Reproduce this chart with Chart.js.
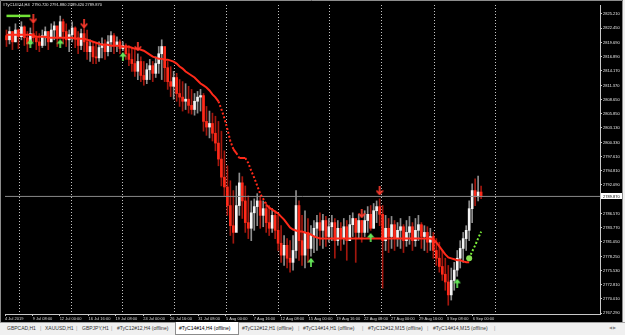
<!DOCTYPE html>
<html>
<head>
<meta charset="utf-8">
<script src="https://cdn.jsdelivr.net/npm/chart.js@4.4.1/dist/chart.umd.min.js"></script>
<style>
  html, body { margin: 0; padding: 0; background: #f0f0f0; }
  #wrap { position: relative; width: 625px; height: 335px; overflow: hidden; }
  #c { position: absolute; left: 0; top: 0; background: #000; }
  #tabs { position: absolute; left: 0; top: 322px; width: 625px; height: 13px; background: #f0f0f0;
          border-top: 1px solid #a0a0a0; box-sizing: border-box;
          font: 5px "Liberation Sans", Arial, sans-serif; color: #333; }
  #tabs span { position: absolute; top: -1px; line-height: 12px; white-space: nowrap; }
  #tabs .sep { color: #999; }
  #tabs .on { top: -1px; height: 12px; width: 59px; padding-left: 3px; background: #fff;
              border: 1px solid #8c8c8c; border-top: none; color: #000; }
  #tabs .nav { color: #888; font-size: 4px; }
</style>
</head>
<body>
<div id="wrap">
  <canvas id="c" width="625" height="322"></canvas>
  <div id="tabs">
    <span style="left:7px">GBPCAD,H1</span>
    <span class="sep" style="left:40px">|</span>
    <span style="left:45px">XAUUSD,H1</span>
    <span class="sep" style="left:76px">|</span>
    <span style="left:82px">GBPJPY,H1</span>
    <span class="sep" style="left:111px">|</span>
    <span style="left:117px">#TyC12#12,H4 (offline)</span>
    <span class="on" style="left:175px">#TyC14#14,H4 (offline)</span>
    <span style="left:242px">#TyC12#12,H1 (offline)</span>
    <span class="sep" style="left:298px">|</span>
    <span style="left:303px">#TyC14#14,H1 (offline)</span>
    <span class="sep" style="left:362px">|</span>
    <span style="left:368px">#TyC12#12,M15 (offline)</span>
    <span class="sep" style="left:427px">|</span>
    <span style="left:433px">#TyC14#14,M15 (offline)</span>
    <span class="sep" style="left:494px">|</span>
    <span class="nav" style="left:609px">&#9664; &#9654;</span>
  </div>
</div>
<script>
var symbol = "#TyC14#14,H4";
var firstOpen = 2821.0;

// H4 bars
var highs = [
  2822.1, 2822.7, 2821.8, 2823.3, 2822.3, 2823.7, 2822.9, 2821.8, 2822.5, 2824.1,
  2821.8, 2821.4, 2822.1, 2822.7, 2821.8, 2823.3, 2823.7, 2822.5, 2824.8, 2824.2,
  2823.3, 2822.1, 2823.7, 2822.7, 2821.8, 2822.3, 2822.9, 2822.1, 2820.2, 2819.8,
  2819.4, 2819.8, 2820.6, 2820.2, 2821.0, 2821.8, 2821.4, 2820.8, 2820.2, 2819.8,
  2819.4, 2819.1, 2818.7, 2818.3, 2817.5, 2816.9, 2816.0, 2815.6, 2816.4, 2816.0,
  2816.9, 2818.9, 2820.2, 2817.9, 2816.0, 2815.0, 2814.1, 2813.7, 2812.5, 2812.1,
  2811.7, 2811.2, 2810.6, 2809.8, 2810.2, 2810.6, 2809.8, 2807.3, 2806.4, 2806.0,
  2805.4, 2804.4, 2802.5, 2798.7, 2795.8, 2792.9, 2791.0, 2791.9, 2794.4, 2793.7,
  2791.9, 2790.0, 2789.0, 2789.4, 2790.4, 2790.0, 2789.0, 2788.7, 2788.1, 2787.5,
  2787.1, 2786.2, 2784.2, 2782.3, 2781.7, 2781.3, 2782.3, 2791.0, 2789.0, 2786.2,
  2787.1, 2785.6, 2784.2, 2785.2, 2786.2, 2786.7, 2786.4, 2786.0, 2785.6, 2786.2,
  2785.6, 2785.2, 2784.8, 2785.6, 2785.2, 2786.2, 2786.7, 2785.2, 2786.4, 2785.2,
  2787.1, 2787.9, 2788.1, 2788.5, 2789.0, 2789.4, 2788.1, 2786.2, 2785.6, 2786.0,
  2785.2, 2784.8, 2785.6, 2784.4, 2785.2, 2786.0, 2784.8, 2785.6, 2786.2, 2784.8,
  2784.2, 2784.0, 2783.7, 2782.9, 2781.7, 2781.0, 2779.4, 2777.9, 2776.5, 2776.0,
  2777.1, 2779.4, 2781.3, 2782.9, 2784.2, 2789.0, 2792.3, 2793.3, 2793.8, 2791.88
];
var lows = [
  2818.9, 2819.4, 2818.3, 2819.8, 2818.5, 2820.2, 2819.1, 2817.9, 2820.4, 2819.8,
  2818.3, 2817.9, 2818.7, 2819.1, 2818.3, 2819.8, 2820.2, 2818.9, 2820.6, 2819.4,
  2818.9, 2817.9, 2819.8, 2818.7, 2817.5, 2818.3, 2817.9, 2816.4, 2816.0, 2815.6,
  2815.6, 2816.0, 2816.7, 2816.4, 2817.1, 2817.9, 2817.5, 2817.9, 2817.5, 2818.1,
  2816.4, 2815.2, 2814.1, 2813.1, 2812.5, 2812.1, 2811.4, 2811.7, 2812.5, 2812.1,
  2812.9, 2813.7, 2812.5, 2812.1, 2810.6, 2809.2, 2808.7, 2808.3, 2807.3, 2806.4,
  2806.7, 2806.0, 2805.8, 2805.6, 2806.0, 2806.4, 2802.5, 2801.7, 2801.2, 2800.6,
  2798.7, 2795.8, 2791.9, 2790.0, 2786.2, 2782.3, 2780.8, 2783.3, 2786.2, 2785.6,
  2782.9, 2781.7, 2781.3, 2783.3, 2784.2, 2783.7, 2784.0, 2782.9, 2782.3, 2782.9,
  2781.7, 2779.4, 2777.1, 2776.5, 2776.0, 2775.2, 2775.6, 2777.9, 2777.5, 2776.5,
  2776.0, 2777.1, 2778.3, 2779.0, 2779.4, 2780.4, 2779.8, 2780.2, 2781.0, 2781.3,
  2777.9, 2780.4, 2779.4, 2780.6, 2777.5, 2781.3, 2782.1, 2777.1, 2781.7, 2781.0,
  2782.1, 2782.9, 2783.3, 2783.7, 2784.8, 2784.2, 2772.1, 2779.4, 2779.0, 2779.8,
  2779.4, 2780.2, 2779.8, 2779.0, 2780.2, 2780.6, 2779.4, 2780.2, 2781.3, 2779.8,
  2779.4, 2779.0, 2779.4, 2777.9, 2776.5, 2775.2, 2773.6, 2771.7, 2768.8, 2769.8,
  2771.7, 2774.4, 2776.0, 2777.1, 2779.4, 2781.3, 2784.8, 2788.1, 2789.0, 2789.42
];
var closes = [
  2820.2, 2821.8, 2819.8, 2822.1, 2820.8, 2822.7, 2820.6, 2819.4, 2821.4, 2820.6,
  2819.8, 2819.1, 2821.0, 2821.8, 2819.8, 2822.1, 2822.9, 2820.8, 2823.7, 2821.8,
  2820.2, 2821.2, 2822.5, 2820.6, 2819.1, 2821.4, 2819.8, 2817.9, 2818.9, 2816.9,
  2816.7, 2818.7, 2819.4, 2817.9, 2819.8, 2821.0, 2819.1, 2819.8, 2818.5, 2819.1,
  2817.5, 2816.4, 2815.6, 2814.1, 2816.0, 2813.3, 2812.5, 2814.4, 2815.2, 2813.7,
  2815.6, 2817.5, 2818.9, 2814.8, 2812.1, 2811.2, 2812.9, 2809.8, 2809.1, 2808.3,
  2808.7, 2807.5, 2806.7, 2808.3, 2809.1, 2809.4, 2804.4, 2803.3, 2804.0, 2802.1,
  2800.2, 2797.1, 2793.6, 2791.7, 2788.1, 2784.2, 2782.9, 2788.1, 2792.5, 2789.0,
  2784.8, 2783.7, 2786.7, 2787.9, 2789.0, 2786.2, 2787.5, 2784.8, 2783.7, 2786.2,
  2783.3, 2780.8, 2778.5, 2780.4, 2777.9, 2777.1, 2779.4, 2788.1, 2781.3, 2778.5,
  2782.9, 2779.8, 2782.3, 2783.7, 2784.8, 2783.3, 2785.2, 2782.1, 2784.0, 2784.8,
  2781.3, 2783.7, 2781.7, 2784.0, 2781.3, 2784.4, 2785.6, 2782.9, 2785.2, 2782.9,
  2785.2, 2786.4, 2783.7, 2787.1, 2787.9, 2786.4, 2781.3, 2783.7, 2782.1, 2784.4,
  2781.7, 2783.3, 2784.0, 2781.3, 2782.9, 2784.0, 2781.3, 2783.3, 2784.4, 2782.1,
  2782.9, 2781.0, 2782.1, 2779.4, 2777.9, 2776.3, 2774.8, 2773.3, 2770.8, 2773.6,
  2775.6, 2777.9, 2779.8, 2781.7, 2783.3, 2787.5, 2791.0, 2789.8, 2790.72, 2789.87
];

// red moving average line
var maLine = [
  2821.17, 2821.17, 2821.17, 2821.17, 2821.17, 2821.17, 2821.17, 2821.17, 2821.17, 2820.98,
  2820.79, 2820.79, 2820.79, 2820.79, 2820.60, 2820.60, 2820.60, 2820.60, 2820.60, 2820.60,
  2820.60, 2820.60, 2820.60, 2820.40, 2820.40, 2820.40, 2820.40, 2820.21, 2820.02, 2819.82,
  2819.63, 2819.44, 2819.25, 2819.25, 2819.25, 2819.05, 2819.05, 2819.05, 2819.05, 2818.86,
  2818.86, 2818.86, 2818.67, 2818.47, 2818.47, 2818.28, 2818.09, 2817.71, 2817.32, 2816.94,
  2816.75, 2816.55, 2816.55, 2816.36, 2816.36, 2816.17, 2815.98, 2815.59, 2815.02, 2814.63,
  2814.05, 2813.67, 2813.28, 2812.90, 2812.32, 2811.74, 2811.36, 2810.97, 2810.39, 2809.62,
  2809.05, 2808.28, 2806.74, 2805.01, 2802.89, 2800.58, 2799.04, 2798.27, 2797.31, 2797.31,
  2797.31, 2796.35, 2794.81, 2793.46, 2791.93, 2790.38, 2789.42, 2788.27, 2787.69, 2787.31,
  2786.92, 2786.54, 2785.96, 2785.38, 2784.61, 2783.84, 2783.46, 2783.27, 2783.07, 2783.07,
  2782.88, 2782.69, 2782.50, 2782.11, 2781.92, 2781.73, 2781.73, 2781.73, 2781.73, 2781.73,
  2781.73, 2781.73, 2781.73, 2781.73, 2781.73, 2781.73, 2781.73, 2781.73, 2781.73, 2781.73,
  2781.73, 2781.73, 2781.73, 2781.73, 2781.73, 2781.73, 2781.73, 2781.73, 2781.73, 2781.73,
  2781.73, 2781.73, 2781.73, 2781.73, 2781.73, 2781.73, 2781.73, 2781.73, 2781.73, 2781.73,
  2781.73, 2781.73, 2781.73, 2781.53, 2780.96, 2780.19, 2779.42, 2778.65, 2778.07, 2777.88,
  2777.69, 2777.50, 2777.50, 2777.30, 2777.11, 2777.11
];

// green projection at the right end, starting at bar 155
var projStart = 155;
var projLine = [2777.88, 2779.22, 2780.38, 2781.73, 2783.07];

// green level top-left (bars 0..8)
var topLevelBars = [0, 8];
var topLevel = 2824.83;

// signal arrows
var downBars = [9, 26, 44, 119, 125];
var downPrices = [2824.25, 2823.29, 2818.86, 2786.54, 2790.96];
var upBars = [8, 18, 39, 102, 122, 151];
var upPrices = [2819.44, 2819.44, 2816.94, 2777.12, 2781.92, 2773.07];

// axes
var priceTicks = [2825.21, 2822.45, 2819.69, 2816.89, 2814.17, 2811.37, 2808.65, 2805.85,
  2803.13, 2800.33, 2797.61, 2794.81, 2792.09, 2786.57, 2783.77, 2781.05, 2778.25,
  2775.53, 2772.81, 2770.01, 2767.29];
var timeTickPos = [-0.5, 8.8, 17.8, 27.5, 36.5, 45.8, 54.8, 64.2, 73.5, 82.8, 91.8,
  101.2, 110.5, 119.8, 128.8, 138.2, 147.5, 156.2];
var timeLabels = ["4 Jul 2019", "9 Jul 08:00", "12 Jul 00:00", "16 Jul 16:00", "19 Jul 08:00",
  "24 Jul 00:00", "26 Jul 16:00", "31 Jul 08:00", "5 Aug 00:00", "7 Aug 16:00", "12 Aug 08:00",
  "15 Aug 00:00", "19 Aug 16:00", "22 Aug 08:00", "27 Aug 00:00", "29 Aug 16:00",
  "3 Sep 08:00", "6 Sep 00:00"];
var gridPos = [4.2, 21.5, 38.8, 56.2, 73.5, 90.8, 108.2, 125.5, 143.2, 163.8];

var viewStart = -0.5, viewEnd = 198.83;
var priceMin = 2767.10, priceMax = 2826.94;

var n = closes.length;
var opens = closes.map(function (c, i) { return i ? closes[i - 1] : firstOpen; });
var isUp = closes.map(function (c, i) { return c >= opens[i]; });
var lastClose = closes[n - 1];
var headerText = symbol + "  " + opens[n - 1].toFixed(3) + " " + highs[n - 1].toFixed(3) + " " +
  lows[n - 1].toFixed(3) + " " + lastClose.toFixed(3);

function arrowImg(color, down) {
  var c = document.createElement("canvas");
  c.width = 8; c.height = 9;
  var g = c.getContext("2d");
  g.strokeStyle = color; g.fillStyle = color; g.lineWidth = 1.7;
  if (down) {
    g.beginPath(); g.moveTo(4, 0); g.lineTo(4, 7.5); g.stroke();
    g.beginPath(); g.moveTo(0.8, 4.2); g.lineTo(4, 8); g.lineTo(7.2, 4.2); g.stroke();
  } else {
    g.beginPath(); g.moveTo(4, 9); g.lineTo(4, 3); g.stroke();
    g.beginPath(); g.moveTo(0.3, 4.6); g.lineTo(4, 0); g.lineTo(7.7, 4.6); g.closePath(); g.fill();
  }
  return c;
}

var mtChrome = {
  id: "mtChrome",
  beforeDatasetsDraw: function (chart) {
    // dotted vertical grid
    var ctx = chart.ctx, a = chart.chartArea, xs = chart.scales.x;
    ctx.save();
    ctx.strokeStyle = "#c4c4c4";
    ctx.lineWidth = 1;
    ctx.setLineDash([1, 2]);
    gridPos.forEach(function (v) {
      var px = Math.round(xs.getPixelForValue(v)) + 0.5;
      ctx.beginPath(); ctx.moveTo(px, a.top); ctx.lineTo(px, a.bottom); ctx.stroke();
    });
    ctx.restore();
  },
  afterDraw: function (chart) {
    var ctx = chart.ctx, a = chart.chartArea, ys = chart.scales.y;
    ctx.save();
    ctx.font = '4px "Liberation Sans", Arial, sans-serif';
    ctx.textBaseline = "middle";
    ctx.fillStyle = "#e6e6e6";
    ctx.fillText(headerText, 3, 5);
    // current price box
    var py = ys.getPixelForValue(lastClose);
    ctx.fillStyle = "#ffffff";
    ctx.fillRect(a.right + 1, Math.round(py) - 3, 21, 6);
    ctx.fillStyle = "#000000";
    ctx.fillText(lastClose.toFixed(3), a.right + 3, py);
    // window frame
    ctx.strokeStyle = "#8c8c8c";
    ctx.lineWidth = 1;
    ctx.beginPath();
    ctx.moveTo(0.5, 322); ctx.lineTo(0.5, 0.5); ctx.lineTo(622.5, 0.5); ctx.lineTo(622.5, 322);
    ctx.stroke();
    ctx.fillStyle = "#f0f0f0";
    ctx.fillRect(623, 0, 2, 322);
    ctx.restore();
  }
};

var wickData = closes.map(function (c, i) { return {x: i, y: [lows[i], highs[i]]}; });
var bodyData = closes.map(function (c, i) { return {x: i, y: [opens[i], c]}; });
var maData = maLine.map(function (v, i) { return {x: i, y: v}; });
var projData = projLine.map(function (v, i) { return {x: projStart + i, y: v}; });

new Chart(document.getElementById("c"), {
  type: "bar",
  data: {
    datasets: [{
      data: wickData,
      backgroundColor: isUp.map(function (u) { return u ? "#8e8e8e" : "#a3170e"; }),
      barThickness: 1,
      grouped: false,
      order: 10
    }, {
      data: bodyData,
      backgroundColor: isUp.map(function (u) { return u ? "#f4f4f4" : "#ff2a1a"; }),
      barThickness: 2,
      minBarLength: 1,
      grouped: false,
      order: 9
    }, {
      type: "line",
      data: [{x: viewStart, y: lastClose}, {x: viewEnd, y: lastClose}],
      borderColor: "#8a8a8a",
      borderWidth: 1,
      pointRadius: 0,
      order: 4
    }, {
      type: "line",
      data: maData,
      borderColor: "#ff2a1a",
      borderWidth: 2,
      pointRadius: 0,
      segment: {
        borderDash: function (c) { return Math.abs(c.p1.y - c.p0.y) > 4 ? [2, 2] : undefined; }
      },
      order: 3
    }, {
      type: "line",
      data: [{x: topLevelBars[0], y: topLevel}, {x: topLevelBars[1], y: topLevel}],
      borderColor: "#72e236",
      borderWidth: 2.5,
      pointRadius: 0,
      order: 2
    }, {
      type: "line",
      data: projData,
      borderColor: "#7cf03a",
      borderWidth: 2,
      borderDash: [2, 2],
      pointRadius: projData.map(function (p, i) { return i ? 0 : 3; }),
      pointBackgroundColor: "#86e050",
      pointBorderWidth: 0,
      order: 2
    }, {
      type: "line",
      data: downBars.map(function (b, i) { return {x: b, y: downPrices[i]}; }),
      showLine: false,
      pointStyle: arrowImg("#ff3b2e", true),
      order: 1
    }, {
      type: "line",
      data: upBars.map(function (b, i) { return {x: b, y: upPrices[i]}; }),
      showLine: false,
      pointStyle: arrowImg("#66e85a", false),
      order: 1
    }]
  },
  options: {
    responsive: false,
    animation: false,
    events: [],
    layout: {padding: {left: 2, top: 3, right: 2, bottom: 0}},
    plugins: {legend: {display: false}, tooltip: {enabled: false}},
    scales: {
      x: {
        type: "linear",
        position: "bottom",
        min: viewStart,
        max: viewEnd,
        bounds: "data",
        offset: false,
        grid: {drawOnChartArea: false, offset: false, tickLength: 2, color: "#c8c8c8"},
        border: {display: true, color: "#c8c8c8"},
        afterBuildTicks: function (s) { s.ticks = timeTickPos.map(function (v) { return {value: v}; }); },
        afterFit: function (s) { s.height = 8; },
        ticks: {
          align: "start",
          autoSkip: false,
          maxRotation: 0,
          padding: 0,
          color: "#d8d8d8",
          font: {size: 4, family: "Liberation Sans"},
          callback: function (v, i) { return timeLabels[i]; }
        }
      },
      y: {
        type: "linear",
        position: "right",
        min: priceMin,
        max: priceMax,
        bounds: "data",
        grid: {drawOnChartArea: false, tickLength: 2, color: "#c8c8c8"},
        border: {display: true, color: "#c8c8c8"},
        afterBuildTicks: function (s) { s.ticks = priceTicks.map(function (v) { return {value: v}; }); },
        afterFit: function (s) { s.width = 23; },
        ticks: {
          padding: 1,
          color: "#e6e6e6",
          font: {size: 4, family: "Liberation Sans"},
          callback: function (v) { return v.toFixed(3); }
        }
      }
    }
  },
  plugins: [mtChrome]
});
</script>
</body>
</html>
